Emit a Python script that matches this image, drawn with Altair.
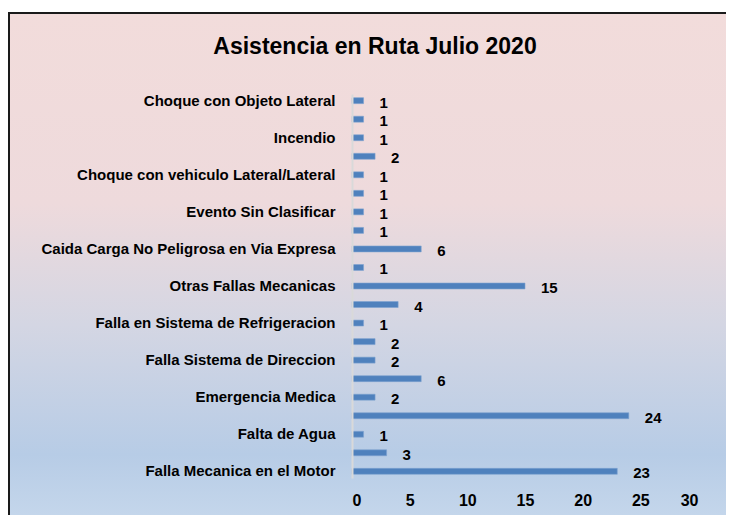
import altair as alt
import pandas as pd

TITLE = "Asistencia en Ruta Julio 2020"

# Bars top to bottom; only every other category label is shown in the reference
labels = [
    "Choque con Objeto Lateral", "", "Incendio", "",
    "Choque con vehiculo Lateral/Lateral", "", "Evento Sin Clasificar", "",
    "Caida Carga No Peligrosa en Via Expresa", "", "Otras Fallas Mecanicas", "",
    "Falla en Sistema de Refrigeracion", "", "Falla Sistema de Direccion", "",
    "Emergencia Medica", "", "Falta de Agua", "", "Falla Mecanica en el Motor",
]
values = [1, 1, 1, 2, 1, 1, 1, 1, 6, 1, 15, 4, 1, 2, 2, 6, 2, 24, 1, 3, 23]
x_ticks = [0, 5, 10, 15, 20, 25, 30]

df = pd.DataFrame({"idx": list(range(len(values))), "label": labels, "value": values})

W, H = 346, 384
PL, PT, PR, PB = 344, 86, 28, 37

label_arr = "[" + ",".join("'" + s.replace("'", "\\'") + "'" for s in labels) + "]"

grad = alt.Gradient(
    gradient="linear", x1=0, x2=0, y1=0, y2=1,
    stops=[
        alt.GradientStop(offset=0, color="#F2DCDB"),
        alt.GradientStop(offset=0.38, color="#EEDADC"),
        alt.GradientStop(offset=0.62, color="#D4D6E3"),
        alt.GradientStop(offset=0.88, color="#B7CCE6"),
        alt.GradientStop(offset=1, color="#C4D6EB"),
    ],
)

bg = alt.Chart(alt.Data(values=[{}])).mark_rect(fill=grad).encode(
    x=alt.value(-343), x2=alt.value(W + PR),
    y=alt.value(-81), y2=alt.value(H + PB),
)

border_left = alt.Chart(alt.Data(values=[{}])).mark_rule(
    color="#1a1a1a", strokeWidth=2
).encode(x=alt.value(-343), y=alt.value(-81), y2=alt.value(H + PB))

border_top = alt.Chart(alt.Data(values=[{}])).mark_rule(
    color="#1a1a1a", strokeWidth=2
).encode(x=alt.value(-344), x2=alt.value(W + PR), y=alt.value(-81))

title = alt.Chart(alt.Data(values=[{"t": TITLE}])).mark_text(
    font="Liberation Sans", fontSize=23, fontWeight="bold", color="#000000",
    align="center", baseline="middle",
).encode(text="t:N", x=alt.value(23), y=alt.value(-47))

base = alt.Chart(df)

bars = base.mark_bar(color="#4F81BD", stroke="#7EA2D0", strokeWidth=0.6).encode(
    y=alt.Y("idx:O", sort="ascending",
            scale=alt.Scale(paddingInner=0.68, paddingOuter=0.2),
            axis=alt.Axis(title=None, labelExpr=label_arr + "[datum.value]",
                          ticks=False, domainColor="#D9D9D9", domainWidth=2,
                          labelFont="Liberation Sans", labelFontWeight="bold",
                          labelFontSize=15, labelColor="#000000",
                          labelPadding=17, labelLimit=340, zindex=1)),
    x=alt.X("value:Q", scale=alt.Scale(domain=[0, 30]),
            axis=alt.Axis(title=None, values=x_ticks, grid=False, domain=False,
                          ticks=False, labelFont="Liberation Sans",
                          labelFontWeight="bold", labelFontSize=16,
                          labelColor="#000000", labelPadding=14, zindex=1)),
)

text = base.mark_text(align="left", baseline="middle", dx=16, dy=2,
                      font="Liberation Sans", fontWeight="bold", fontSize=15,
                      color="#000000").encode(
    y=alt.Y("idx:O", sort="ascending"),
    x="value:Q",
    text="value:Q",
)

chart = alt.layer(bg, border_left, border_top, title, bars, text).properties(
    width=W, height=H,
    autosize=alt.AutoSizeParams(type="none"),
    padding={"left": PL, "top": PT, "right": PR, "bottom": PB},
).configure_view(stroke=None)

chart.save("out.html", embed_options={"renderer": "svg", "actions": False})
